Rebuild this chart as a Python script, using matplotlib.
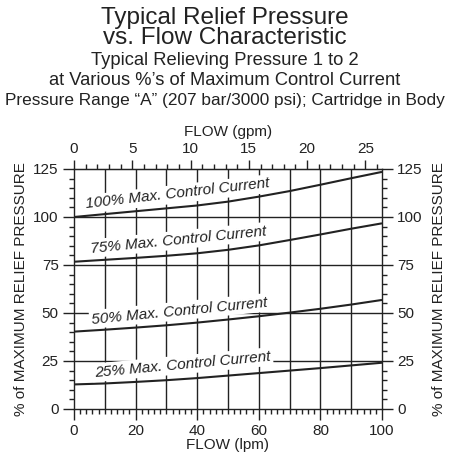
"""
Relief pressure vs. flow chart for various control currents.
"""

import matplotlib
matplotlib.use("Agg")
import matplotlib.pyplot as plt
from matplotlib.ticker import MultipleLocator

plt.rcParams["font.family"] = ["Liberation Sans", "DejaVu Sans"]

# flow in lpm, pressure in % of max relief pressure
flow_lpm = [0, 10, 20, 30, 40, 50, 60, 70, 80, 90, 100]
p_100 = [100, 101.5, 103, 104.5, 106, 108, 110.6, 113.5, 116.8, 120.2, 123.5]
p_75 = [76.7, 77.7, 78.7, 79.8, 81.1, 82.9, 85.2, 88.0, 90.9, 93.9, 96.7]
p_50 = [40.3, 41.3, 42.4, 43.6, 45.0, 46.6, 48.3, 50.2, 52.2, 54.4, 56.8]
p_25 = [12.8, 13.3, 14.1, 15.0, 16.1, 17.4, 18.7, 20.0, 21.3, 22.7, 24.1]

curves = [p_100, p_75, p_50, p_25]
curve_labels = [
    "100% Max. Control Current",
    "75% Max. Control Current",
    "50% Max. Control Current",
    "25% Max. Control Current",
]
# label anchor (flow, pressure) and angle
label_pos = [(33.8, 109.9), (33.9, 85.9), (34.4, 49.0), (35.4, 21.0)]
label_rot = [6.5, 5.7, 5.6, 5.3]

title_lines = [
    ("Typical Relief Pressure", 17.5),
    ("vs. Flow Characteristic", 17.5),
    ("Typical Relieving Pressure 1 to 2", 13.2),
    ("at Various %\u2019s of Maximum Control Current", 13.2),
    ("Pressure Range \u201cA\u201d (207 bar/3000 psi); Cartridge in Body", 12.4),
]
title_y = [24, 44, 65, 85, 105]

LPM_PER_GPM = 3.785
ink = "#222222"


def main():

    W, H = 450, 455
    fig = plt.figure(figsize=(W / 100, H / 100), dpi=100)

    ax = fig.add_axes([74 / W, 1 - 409 / H, 308 / W, 240 / H])

    ax.set_xlim(0, 100)
    ax.set_ylim(0, 125)

    # grid
    for x in range(10, 100, 10):
        ax.axvline(x, color=ink, lw=1.0, zorder=1)
    for y in [25, 50, 75, 100]:
        ax.axhline(y, color=ink, lw=1.0, zorder=1)

    for vals in curves:
        ax.plot(flow_lpm, vals, color=ink, lw=1.5, zorder=3,
                solid_capstyle="butt")

    for text, (x, y), rot in zip(curve_labels, label_pos, label_rot):
        ax.text(x, y, text, fontsize=11, style="italic", color=ink,
                ha="center", va="baseline", rotation=rot,
                rotation_mode="anchor", zorder=4,
                bbox=dict(boxstyle="square,pad=0.15", fc="white",
                          ec="none"))

    for s in ax.spines.values():
        s.set_color(ink)
        s.set_linewidth(1.0)

    ax.xaxis.set_major_locator(MultipleLocator(20))
    ax.xaxis.set_minor_locator(MultipleLocator(2))
    ax.yaxis.set_major_locator(MultipleLocator(25))
    ax.yaxis.set_minor_locator(MultipleLocator(5))

    ax.tick_params(which="both", direction="out", colors=ink,
                   labelsize=11, labelcolor=ink, width=1.0,
                   left=True, right=True, labelright=True)
    ax.tick_params(which="major", length=8, pad=3)
    ax.tick_params(which="minor", length=3.5)

    ax.set_xlabel("FLOW (lpm)", fontsize=11, color=ink, labelpad=0)
    ax.set_ylabel("% of MAXIMUM RELIEF PRESSURE", fontsize=11,
                  color=ink, labelpad=4)

    # right-hand label
    fig.text(439 / W, 1 - 289 / H, "% of MAXIMUM RELIEF PRESSURE",
             fontsize=11, color=ink, rotation=90, ha="center",
             va="center")

    # top axis in gpm
    top = ax.secondary_xaxis(
        "top",
        functions=(lambda q: q / LPM_PER_GPM, lambda q: q * LPM_PER_GPM),
    )
    top.xaxis.set_major_locator(MultipleLocator(5))
    top.xaxis.set_minor_locator(MultipleLocator(1))
    top.tick_params(which="both", direction="out", colors=ink,
                    labelsize=11, labelcolor=ink, width=1.0)
    top.tick_params(which="major", length=6.5, pad=3)
    top.tick_params(which="minor", length=3.5)
    top.spines["top"].set_color(ink)
    top.set_xlabel("FLOW (gpm)", fontsize=11, color=ink, labelpad=4)

    for (text, size), y in zip(title_lines, title_y):
        fig.text(0.5, 1 - y / H, text, fontsize=size, color=ink,
                 ha="center", va="baseline")

    fig.savefig("out.png", dpi=100)


if __name__ == "__main__":
    main()
